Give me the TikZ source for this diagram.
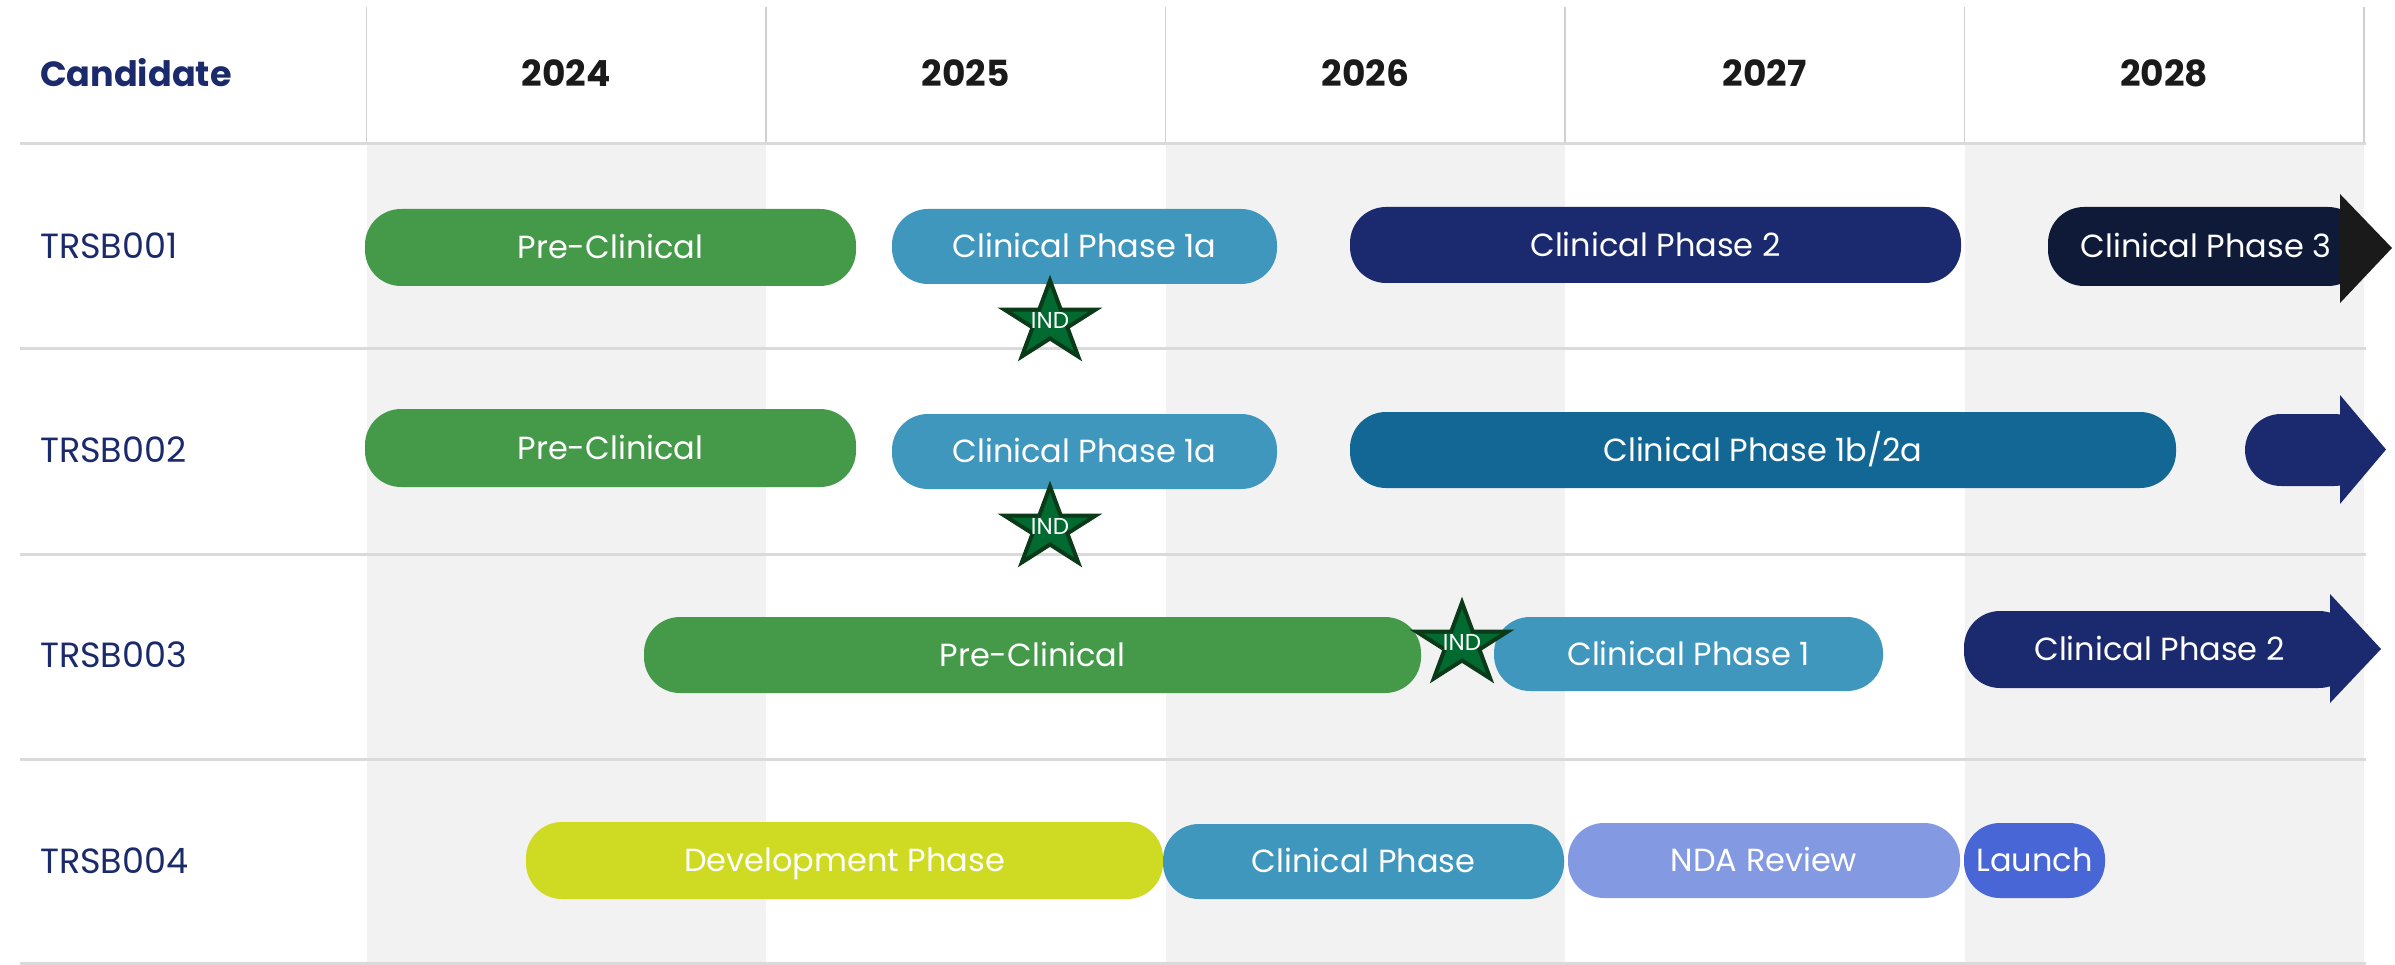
\documentclass[tikz,border=0pt]{standalone}
\usepackage{fontspec}
\setmainfont{Poppins}
\definecolor{cgreen}{HTML}{459A4A}
\definecolor{clblue}{HTML}{4097BE}
\definecolor{cnavy}{HTML}{1B2A6E}
\definecolor{cdark}{HTML}{0F1A38}
\definecolor{cteal}{HTML}{126795}
\definecolor{cyellow}{HTML}{CFDA22}
\definecolor{cnda}{HTML}{8399E1}
\definecolor{claunch}{HTML}{4866D5}
\definecolor{cgrey}{HTML}{F2F2F2}
\definecolor{cline}{HTML}{DADADA}
\definecolor{cvline}{HTML}{D0D0D0}
\definecolor{clabel}{HTML}{1B2A6B}
\definecolor{cyear}{HTML}{1A1A1A}
\definecolor{cstar}{HTML}{006A30}
\definecolor{cstarline}{HTML}{0B3A18}
\definecolor{ctri}{HTML}{1A1A1A}
\tikzset{
  pill/.style={rectangle, rounded corners=36pt, inner sep=0pt, text=white,
    font=\fontsize{32}{38}\selectfont, text height=22.4pt, text depth=0pt},
  hdrtext/.style={inner sep=0pt, text=clabel, font=\bfseries\fontsize{35}{40}\selectfont,
    text height=24.5pt, text depth=0pt},
  yeartext/.style={inner sep=0pt, text=cyear, font=\bfseries\fontsize{36}{40}\selectfont,
    text height=25.2pt, text depth=0pt},
  rowtext/.style={inner sep=0pt, text=clabel, font=\fontsize{35}{40}\selectfont,
    text height=24.5pt, text depth=0pt},
  starst/.style={fill=cstar, draw=cstarline, line width=4pt, line join=miter},
  indtext/.style={inner sep=0pt, text=white, font=\fontsize{23}{26}\selectfont,
    text height=16.1pt, text depth=0pt},
  hline/.style={draw=cline, line width=3pt},
  vline/.style={draw=cvline, line width=1.5pt},
}
\newcommand\indstar[3]{%
  \begin{scope}[shift={(#2,#3)}]
    \filldraw[starst] (270:48 and 42) -- (306:18.3 and 16) -- (342:48 and 42) -- (18:18.3 and 16)
      -- (54:48 and 42) -- (90:18.3 and 16) -- (126:48 and 42) -- (162:18.3 and 16)
      -- (198:48 and 42) -- (234:18.3 and 16) -- cycle;
  \end{scope}
  \node[indtext] (#1) at (#2,#3-2.5) {IND};
}
\begin{document}
\begin{tikzpicture}[x=1pt, y=-1pt]
\useasboundingbox (0,0) rectangle (2395,965);
\fill[white] (0,0) rectangle (2395,965);
% grey columns
\fill[cgrey] (366.5,144) rectangle (766,963);
\fill[cgrey] (1165.5,144) rectangle (1565,963);
\fill[cgrey] (1964.5,144) rectangle (2364,963);
% header vertical lines
\foreach \x in {366.5,766,1165.5,1565,1964.5,2364} {\draw[vline] (\x,7) -- (\x,144);}
% horizontal lines
\foreach \y in {144,349,554,759,963} {\draw[hline] (20,\y) -- (2366,\y);}
% header
\node[hdrtext, anchor=west] (cand) at (40,74) {Candidate};
\node[yeartext] (y2024) at (566.25,74) {2024};
\node[yeartext] (y2025) at (965.75,74) {2025};
\node[yeartext] (y2026) at (1365.25,74) {2026};
\node[yeartext] (y2027) at (1764.75,74) {2027};
\node[yeartext] (y2028) at (2164.25,74) {2028};
% row labels
\node[rowtext, anchor=west] (r1) at (40,246) {TRSB001};
\node[rowtext, anchor=west] (r2) at (40,450) {TRSB002};
\node[rowtext, anchor=west] (r3) at (40,655) {TRSB003};
\node[rowtext, anchor=west] (r4) at (40,861) {TRSB004};
% row 1
\node[pill, fill=cgreen, minimum width=491pt, minimum height=77pt] (pc1) at (610.5,247.5) {Pre-Clinical};
\node[pill, fill=clblue, minimum width=385pt, minimum height=75pt] (ca1) at (1084.5,246.5) {Clinical Phase 1a};
\node[pill, fill=cnavy, minimum width=611pt, minimum height=76pt] (cb1) at (1655.5,245) {Clinical Phase 2};
\node[pill, fill=cdark, minimum width=316pt, minimum height=79pt] (cc1) at (2206,246.5) {Clinical Phase 3};
\fill[ctri] (2340,194) -- (2392,248) -- (2340,303) -- cycle;
% row 2
\node[pill, fill=cgreen, minimum width=491pt, minimum height=78pt] (pc2) at (610.5,448) {Pre-Clinical};
\node[pill, fill=clblue, minimum width=385pt, minimum height=75pt] (ca2) at (1084.5,451.5) {Clinical Phase 1a};
\node[pill, fill=cteal, minimum width=826pt, minimum height=76pt] (cb2) at (1763,450) {Clinical Phase 1b/2a};
\node[pill, fill=cnavy, minimum width=125pt, minimum height=72pt] (cc2) at (2307.5,450) {};
\fill[cnavy] (2340,395) -- (2386,449.5) -- (2340,504) -- cycle;
% row 3
\node[pill, fill=cgreen, minimum width=777pt, minimum height=76pt] (pc3) at (1032.5,655) {Pre-Clinical};
\node[pill, fill=clblue, minimum width=389pt, minimum height=74pt] (ca3) at (1688.5,654) {Clinical Phase 1};
\node[pill, fill=cnavy, minimum width=391pt, minimum height=77pt] (cb3) at (2159.5,649.5) {Clinical Phase 2};
\fill[cnavy] (2330,594) -- (2381,649) -- (2330,703) -- cycle;
% row 4
\node[pill, fill=cyellow, minimum width=637pt, minimum height=77pt] (dv4) at (844.5,860.5) {Development Phase};
\node[pill, fill=clblue, minimum width=401pt, minimum height=75pt] (cl4) at (1363.5,861.5) {Clinical Phase};
\node[pill, fill=cnda, minimum width=392pt, minimum height=75pt] (nd4) at (1764,860.5) {NDA Review};
\node[pill, fill=claunch, minimum width=141pt, minimum height=75pt] (la4) at (2034.5,860.5) {Launch};
% IND stars
\indstar{ind1}{1050}{322.5}
\indstar{ind2}{1050}{528.5}
\indstar{ind3}{1462}{644.5}
\end{tikzpicture}
\end{document}
